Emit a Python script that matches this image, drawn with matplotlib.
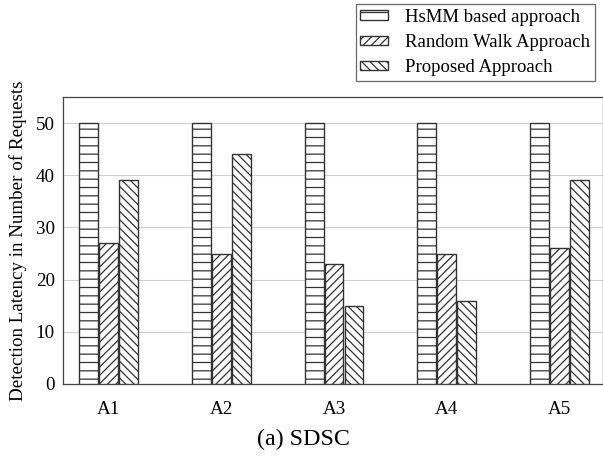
import matplotlib.pyplot as plt
import numpy as np

plt.rcParams['font.family'] = ['Liberation Serif', 'DejaVu Serif']
plt.rcParams['hatch.linewidth'] = 0.9

# values
attacks = ["A1", "A2", "A3", "A4", "A5"]
hsmm = [50, 50, 50, 50, 50]
random_walk = [27, 25, 23, 25, 26]
proposed = [39, 44, 15, 16, 39]

labels = ["HsMM based approach", "Random Walk Approach", "Proposed Approach"]
hatches = ["--", "////", "\\\\\\\\"]

fig = plt.figure(figsize=(6.03, 4.59), dpi=100)
ax = fig.add_axes([63 / 603, 75 / 459, 540 / 603, 287 / 459])

x = np.arange(len(attacks))
w = 0.168
off = 0.177
for i, (vals, lab, h) in enumerate(zip([hsmm, random_walk, proposed], labels, hatches)):
    ax.bar(x + (i - 1) * off, vals, width=w, color="white", edgecolor="#333333",
           hatch=h, linewidth=1.0, label=lab, zorder=3)

ax.set_xlim(-0.403, 4.385)
ax.set_ylim(0, 55)
ax.set_yticks([0, 10, 20, 30, 40, 50])
ax.set_xticks(x)
ax.set_xticklabels(attacks)
ax.tick_params(axis="both", length=0, labelsize=13.7)
ax.tick_params(axis="x", pad=12)
ax.tick_params(axis="y", pad=6)
ax.yaxis.grid(True, color="#d0d0d0", linewidth=0.8, zorder=0)
for s in ax.spines.values():
    s.set_color("#444444")
    s.set_linewidth(0.9)

ax.set_ylabel("Detection Latency in Number of Requests", fontsize=13.7, labelpad=6)

leg = ax.legend(loc="upper right", bbox_to_anchor=((595 - 63) / 540, (384 - 4) / 287),
                fontsize=13.5, frameon=True, fancybox=False, edgecolor="#444444",
                handlelength=1.5, handleheight=0.4, labelspacing=0.44,
                borderpad=0.25, handletextpad=0.9, borderaxespad=0)
leg.get_frame().set_linewidth(0.9)

fig.text(303 / 603, 1 - 439 / 459, "(a) SDSC", ha="center", va="center", fontsize=17.3)

fig.savefig("out.png", dpi=100)
